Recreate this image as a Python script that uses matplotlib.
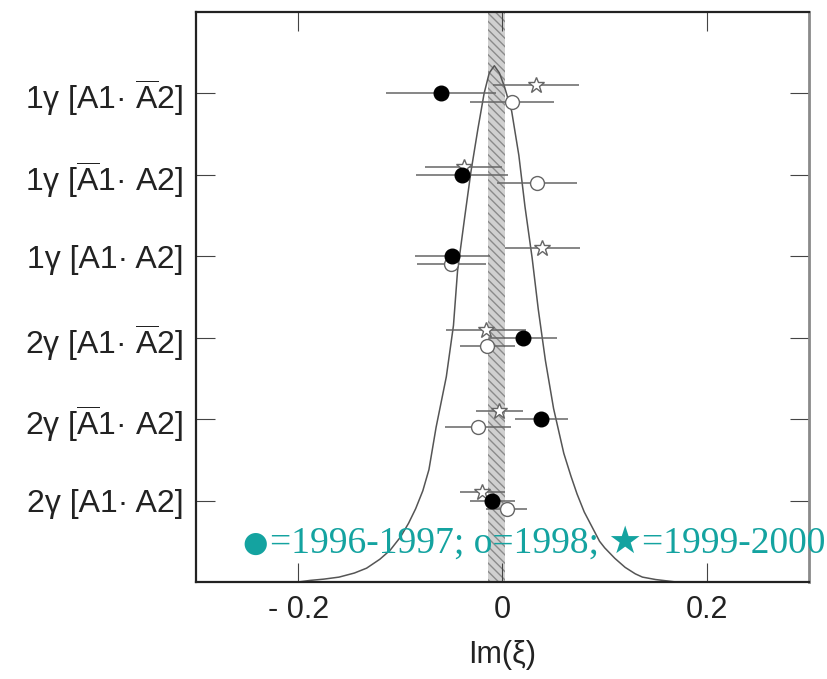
import matplotlib
matplotlib.use("Agg")
import matplotlib.pyplot as plt

plt.rcParams['font.family'] = ['Liberation Sans', 'DejaVu Sans']
plt.rcParams['mathtext.fontset'] = 'custom'
plt.rcParams['mathtext.rm'] = 'Liberation Sans'
plt.rcParams['mathtext.it'] = 'Liberation Sans:italic'
plt.rcParams['hatch.linewidth'] = 1.0

# ---- data (rows listed bottom to top) ----
categories = ["2γ [A1· A2]",
              r"2γ [$\overline{\mathrm{A}}$1· A2]",
              r"2γ [A1· $\overline{\mathrm{A}}$2]",
              "1γ [A1· A2]",
              r"1γ [$\overline{\mathrm{A}}$1· A2]",
              r"1γ [A1· $\overline{\mathrm{A}}$2]"]
rows = [1, 2, 3, 4, 5, 6]

filled_x = [-0.010, 0.038, 0.020, -0.049, -0.040, -0.060]
filled_err = [0.022, 0.026, 0.033, 0.037, 0.045, 0.054]
open_x = [0.004, -0.024, -0.015, -0.050, 0.034, 0.009]
open_err = [0.020, 0.032, 0.027, 0.034, 0.039, 0.041]
star_x = [-0.020, -0.003, -0.016, 0.039, -0.038, 0.033]
star_err = [0.022, 0.023, 0.039, 0.037, 0.038, 0.042]

curve_x = [-0.200, -0.188, -0.175, -0.160, -0.145, -0.133, -0.120, -0.110,
           -0.100, -0.092, -0.085, -0.078, -0.072, -0.065, -0.055, -0.048,
           -0.044, -0.037, -0.031, -0.024, -0.018, -0.013, -0.008, -0.003,
           0.002, 0.009, 0.016, 0.022, 0.029, 0.035, 0.042, 0.050, 0.060,
           0.067, 0.073, 0.080, 0.090, 0.095, 0.100, 0.110, 0.120, 0.130,
           0.137, 0.150, 0.160, 0.170]
curve_y = [0.00, 0.02, 0.035, 0.06, 0.11, 0.17, 0.28, 0.39,
           0.55, 0.72, 0.90, 1.12, 1.38, 1.90, 2.52, 3.15,
           3.82, 4.48, 5.03, 5.57, 6.00, 6.25, 6.34, 6.25,
           6.08, 5.78, 5.24, 4.61, 3.98, 3.35, 2.72, 2.13, 1.58,
           1.30, 1.08, 0.86, 0.62, 0.50, 0.42, 0.29, 0.18, 0.10,
           0.06, 0.03, 0.015, 0.00]

band_range = (-0.014, 0.002)
xticks = [-0.2, 0.0, 0.2]
xtick_labels = ["- 0.2", "0", "0.2"]
legend_dot = "●"
legend_text = "=1996-1997; o=1998; ★=1999-2000"

# ---- figure ----
fig = plt.figure(figsize=(8.28, 6.79), dpi=100)
ax = fig.add_axes([196/828, 1-582/679, (809-196)/828, (582-12)/679])
ax.set_xlim(-0.3, 0.3)
ax.set_ylim(0, 7)

ax.axvspan(band_range[0], band_range[1], facecolor='#d0d0d0', edgecolor='#8a8a8a',
           hatch='\\\\\\\\', linewidth=0, zorder=1)

ax.plot(curve_x, curve_y, color='#555555', lw=1.1, zorder=2, solid_joinstyle='round')

off = 0.1
yf = [r for r in rows]
yo = [r - off for r in rows]
ys = [r + off for r in rows]

ecol = '#666666'
ax.errorbar(star_x, ys, xerr=star_err, fmt='none', ecolor=ecol, elinewidth=1.1, capsize=0, zorder=3)
ax.errorbar(open_x, yo, xerr=open_err, fmt='none', ecolor=ecol, elinewidth=1.1, capsize=0, zorder=3)
ax.errorbar(filled_x, yf, xerr=filled_err, fmt='none', ecolor=ecol, elinewidth=1.1, capsize=0, zorder=3)

ax.plot(star_x, ys, ls='none', marker='*', ms=12, mfc='white', mec='#666666', mew=1.0, zorder=4)
ax.plot(open_x, yo, ls='none', marker='o', ms=10, mfc='white', mec='#666666', mew=1.0, zorder=4)
ax.plot(filled_x, yf, ls='none', marker='o', ms=10.5, mfc='black', mec='black', zorder=5)

ax.set_yticks(rows)
ax.set_yticklabels(categories)
ax.set_xticks(xticks)
ax.set_xticklabels(xtick_labels)
ax.tick_params(direction='in', length=14, width=0.8, color='#444444',
               top=True, right=True, labelsize=22, labelcolor='#222222')
ax.tick_params(axis='y', pad=9, labelsize=23)
ax.tick_params(axis='x', pad=9)

for s in ['left', 'top', 'bottom']:
    ax.spines[s].set_linewidth(1.6)
    ax.spines[s].set_color('#222222')
ax.spines['right'].set_linewidth(2.0)
ax.spines['right'].set_color('#8a8a8a')

ax.set_xlabel("Im(ξ)", fontsize=22, color='#222222', labelpad=11)

teal = '#14A3A0'
fig.text(255/828, 1-544/679, legend_dot, color=teal, fontsize=21,
         family='DejaVu Sans', ha='center', va='center')
fig.text(270/828, 1-553/679, legend_text, color=teal, fontsize=27,
         family=['Liberation Serif', 'DejaVu Sans'], ha='left', va='baseline')

fig.savefig("out.png", dpi=100)
